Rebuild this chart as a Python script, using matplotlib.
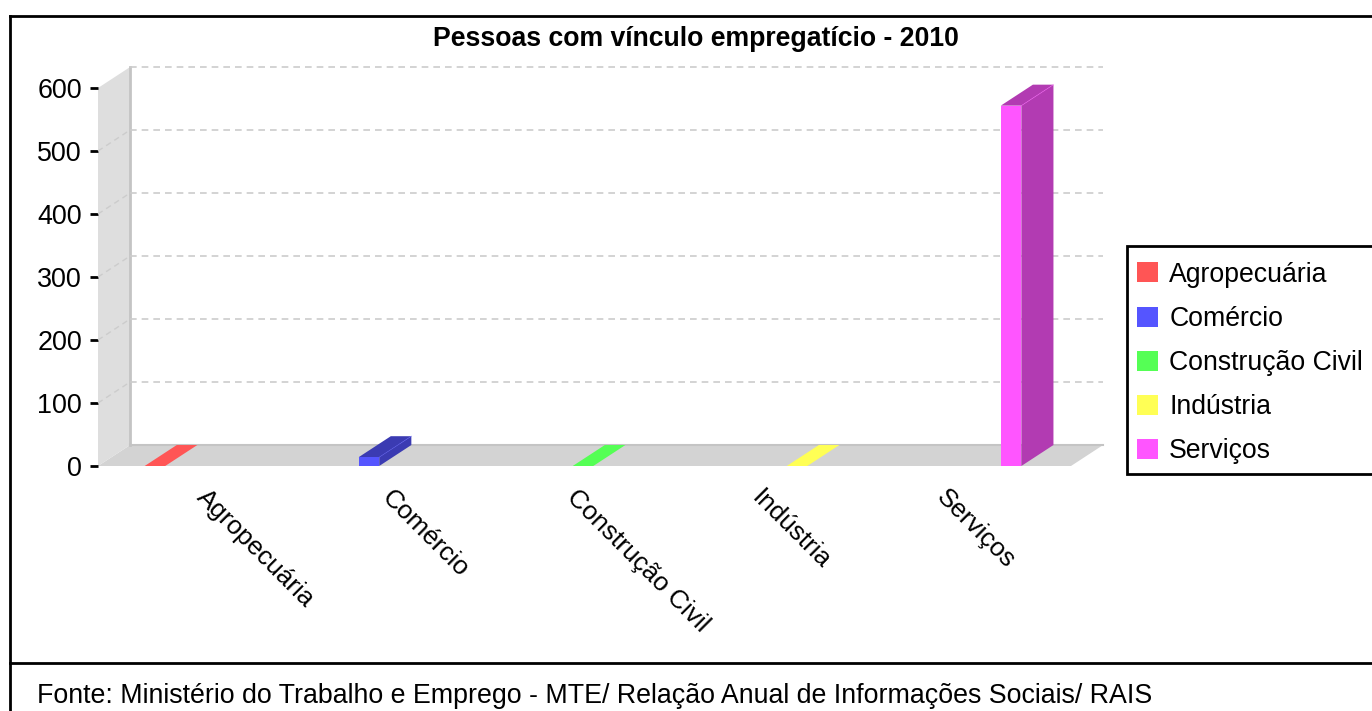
import matplotlib
matplotlib.use("Agg")
import matplotlib.pyplot as plt
from matplotlib.lines import Line2D
from matplotlib.patches import Patch, Polygon, Rectangle

plt.rcParams['font.family'] = ['Liberation Sans', 'DejaVu Sans']

categories = ['Agropecuária', 'Comércio', 'Construção Civil', 'Indústria', 'Serviços']
values = [0, 14, 0, 0, 572]
colors = ['#FF5555', '#5555FF', '#55FF55', '#FFFF55', '#FF55FF']
dark_colors = ['#B23B3B', '#3B3BB2', '#3BB23B', '#B2B23B', '#B23BB2']
y_ticks = [0, 100, 200, 300, 400, 500, 600]

W, H = 1372, 711
BAR_W = 0.096
DEPTH_X = 0.15   # fake 3d offset, in x units
DEPTH_Y = 33.3   # same, in y units


def px_x(x):
    return x / W


def px_y(y):
    return 1 - y / H


fig = plt.figure(figsize=(W / 100, H / 100), dpi=100)
ax = fig.add_axes([px_x(98), px_y(466), 973 / W, 378 / H])
xmin, xmax = -0.266, 4.28
ax.set_xlim(xmin, xmax)
ax.set_ylim(0, 600)
ax.patch.set_visible(False)
for s in ax.spines.values():
    s.set_visible(False)

# floor and left wall
ax.add_patch(Polygon([(xmin, 0), (xmax, 0), (xmax + DEPTH_X, DEPTH_Y), (xmin + DEPTH_X, DEPTH_Y)],
                     fc='#D3D3D3', ec='none', clip_on=False, zorder=1))
ax.add_patch(Polygon([(xmin, 0), (xmin + DEPTH_X, DEPTH_Y), (xmin + DEPTH_X, 600 + DEPTH_Y), (xmin, 600)],
                     fc='#DEDEDE', ec='none', clip_on=False, zorder=1))
ax.plot([xmin + DEPTH_X] * 2, [DEPTH_Y, 600 + DEPTH_Y], color='#C4C4C4', lw=2, clip_on=False, zorder=2)
ax.plot([xmin + DEPTH_X, xmax + DEPTH_X], [DEPTH_Y, DEPTH_Y], color='#C4C4C4', lw=1.5, clip_on=False, zorder=2)

# gridlines, back wall + diagonal on the left wall
for t in y_ticks[1:]:
    ax.plot([xmin + DEPTH_X, xmax + DEPTH_X], [t + DEPTH_Y] * 2, color='#CCCCCC', lw=1.2,
            dashes=(4, 3), clip_on=False, zorder=2)
for t in y_ticks[1:-1]:
    ax.plot([xmin, xmin + DEPTH_X], [t, t + DEPTH_Y], color='#CCCCCC', lw=1,
            dashes=(4, 3), clip_on=False, zorder=2)

# bars
for i, (v, c, d) in enumerate(zip(values, colors, dark_colors)):
    x0, x1 = i - BAR_W / 2, i + BAR_W / 2
    top = c if v == 0 else d
    ax.add_patch(Polygon([(x0, v), (x1, v), (x1 + DEPTH_X, v + DEPTH_Y), (x0 + DEPTH_X, v + DEPTH_Y)],
                         fc=top, ec='none', clip_on=False, zorder=3))
    if v > 0:
        ax.add_patch(Polygon([(x1, 0), (x1 + DEPTH_X, DEPTH_Y), (x1 + DEPTH_X, v + DEPTH_Y), (x1, v)],
                             fc=d, ec='none', clip_on=False, zorder=3))
        ax.bar(i, v, width=BAR_W, color=c, zorder=4, clip_on=False)
        ax.plot([x1, x1 + DEPTH_X], [v, v + DEPTH_Y], color=c, lw=0.6, alpha=0.5, clip_on=False, zorder=4)

ax.set_yticks(y_ticks)
ax.tick_params(axis='y', length=6, width=2, pad=5.5, labelsize=19.4, color='black')

# x labels are spaced tighter than the bars in the original
label_pos = [(209 + 185 * i - 155) / 214 for i in range(len(categories))]
ax.set_xticks(label_pos)
ax.set_xticklabels(categories, rotation=-45, rotation_mode='anchor', ha='left', va='top', fontsize=18.8)
ax.tick_params(axis='x', length=0, pad=14)

# legend box runs off the right edge, so it is drawn apart from the legend
fig.add_artist(Rectangle((px_x(1127), px_y(474)), 262 / W, 228 / H, fc='white', ec='black', lw=2,
                         transform=fig.transFigure))
handles = [Patch(fc=c, ec='none', label=n) for n, c in zip(categories, colors)]
leg = fig.legend(handles=handles, loc='upper left', bbox_to_anchor=(px_x(1126), px_y(250.5)),
                 fontsize=19.2, frameon=False, borderaxespad=0, borderpad=0.42,
                 labelspacing=0.68, handlelength=0.78, handleheight=0.78, handletextpad=0.42)

fig.text(px_x(696), px_y(39), 'Pessoas com vínculo empregatício - 2010', ha='center', va='center',
         fontsize=19.2, fontweight='bold')
fig.text(px_x(37), px_y(696), 'Fonte: Ministério do Trabalho e Emprego - MTE/ Relação Anual de Informações Sociais/ RAIS',
         ha='left', va='center', fontsize=19.25)

# outer frame
for xs, ys in [([10, W], [16, 16]), ([10, 10], [16, H]), ([10, W], [663, 663])]:
    fig.add_artist(Line2D([px_x(x) for x in xs], [px_y(y) for y in ys], color='black', lw=2))

fig.savefig('out.png', dpi=100)
